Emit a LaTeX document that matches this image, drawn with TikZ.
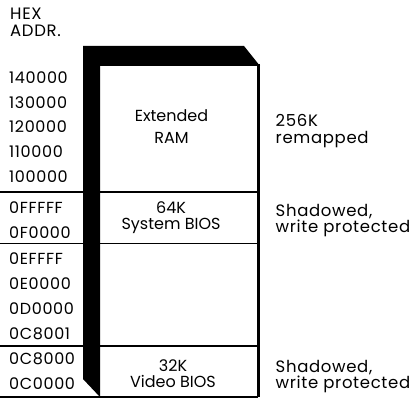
\documentclass[tikz,border=0pt]{standalone}
\usepackage{fontspec}
\setmainfont{Poppins}
\newfontfamily\widefont{Poppins}[LetterSpace=4]
\usepackage{tikz}

\begin{document}
\begin{tikzpicture}[x=1pt,y=-1pt,
  font=\fontsize{16}{16}\selectfont,
  txt/.style={inner sep=0pt,text height=11.5pt,text depth=0pt},
  addr/.style={txt,anchor=base west,font=\widefont\fontsize{16}{16}\selectfont},
  note/.style={txt,anchor=base west,font=\widefont\fontsize{16.5}{16}\selectfont},
  inbox/.style={txt,anchor=base},
  sep/.style={line width=1.5pt}]
  \useasboundingbox (0,0) rectangle (414,398);
  % black frame of the memory column
  \fill (83,46) -- (244,46) -- (260,66) -- (100,66) -- (100,397) -- (83,379) -- cycle;
  \draw[line width=2.6pt] (258.7,64) -- (258.7,397);
  % separators
  \draw[sep] (0,192) -- (258,192);
  \draw[sep] (0,243.5) -- (258,243.5);
  \draw[sep] (0,346) -- (258,346);
  \draw[sep] (0,397) -- (258,397);
  % header
  \node[note] (hex) at (10,20) {HEX};
  \node[note] (addr) at (10,36.7) {ADDR.};
  % addresses
  \node[addr] (a140) at (9,83.5) {140000};
  \node[addr] (a130) at (9,108.5) {130000};
  \node[addr] (a120) at (9,133) {120000};
  \node[addr] (a110) at (9,157.5) {110000};
  \node[addr] (a100) at (9,182) {100000};
  \node[addr] (a0FF) at (9,213) {0FFFFF};
  \node[addr] (a0F0) at (9,238) {0F0000};
  \node[addr] (a0EF) at (9,264) {0EFFFF};
  \node[addr] (a0E0) at (9,289) {0E0000};
  \node[addr] (a0D0) at (9,314) {0D0000};
  \node[addr] (a0C81) at (9,339) {0C8001};
  \node[addr] (a0C80) at (9,364) {0C8000};
  \node[addr] (a0C0) at (9,389.5) {0C0000};
  % blocks
  \node[inbox] (ram1) at (171.5,121.7) {Extended};
  \node[inbox] (ram2) at (171.5,143.3) {RAM};
  \node[inbox] (sys1) at (171,213) {64K};
  \node[inbox] (sys2) at (171,229) {System BIOS};
  \node[inbox] (vid1) at (173,371.2) {32K};
  \node[inbox] (vid2) at (173,387) {Video BIOS};
  % notes
  \node[note] (remap1) at (275.5,127) {256K};
  \node[note] (remap2) at (275.5,143.5) {remapped};
  \node[note] (shsys1) at (275.5,216.2) {Shadowed,};
  \node[note] (shsys2) at (275.5,232) {write protected};
  \node[note] (shvid1) at (275.5,372.8) {Shadowed,};
  \node[note] (shvid2) at (275.5,388.6) {write protected};
\end{tikzpicture}
\end{document}
